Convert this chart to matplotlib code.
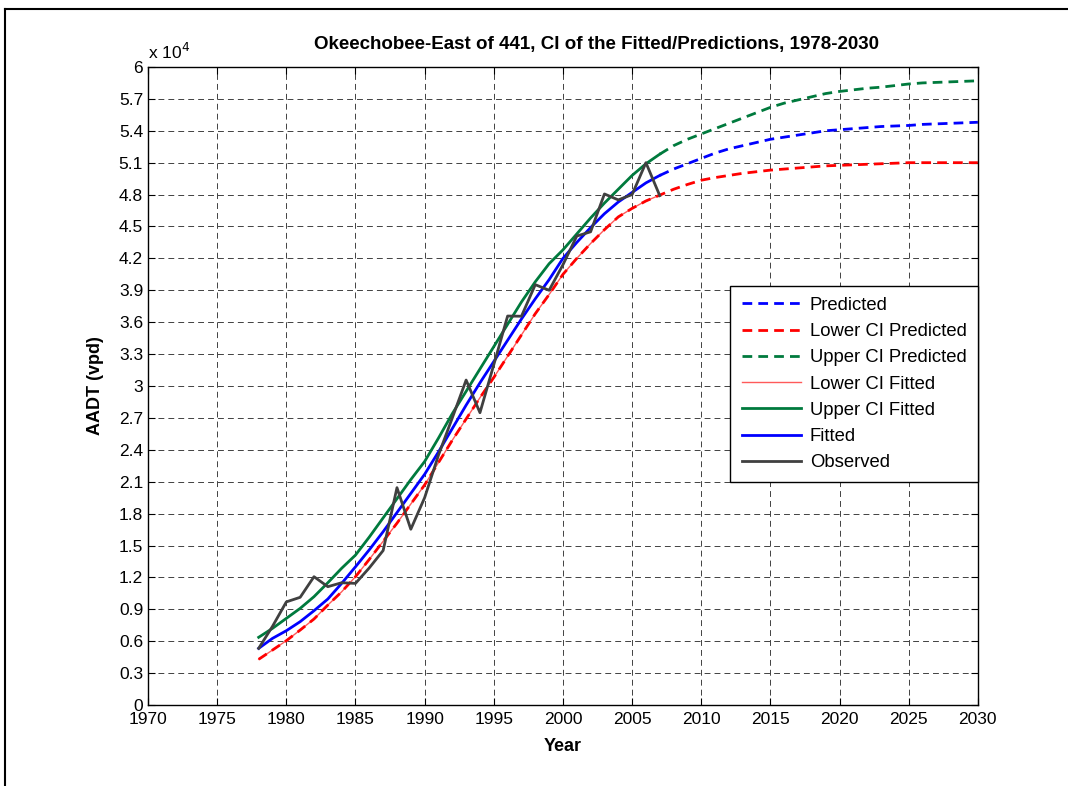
import numpy as np
import matplotlib
matplotlib.use('Agg')
import matplotlib.pyplot as plt
from matplotlib.lines import Line2D

plt.rcParams['font.family'] = ['Liberation Sans', 'DejaVu Sans']

# Data (vehicles per day)
fit_years = list(range(1978, 2008))
pred_years = list(range(2007, 2031))

observed = [5330, 7400, 9700, 10130, 12070, 11130, 11500, 11440, 12900, 14530,
            20440, 16530, 19500, 23500, 27000, 30560, 27490, 32000, 36580, 36560,
            39530, 39000, 41400, 44100, 44500, 48060, 47500, 48000, 51000, 47900]

fitted = [5330, 6270, 6990, 7840, 8870, 9970, 11440, 13000, 14600, 16300,
          18100, 19900, 21700, 23800, 26000, 28200, 30300, 32300, 34300, 36300,
          38200, 40000, 42000, 43500, 44900, 46200, 47300, 48200, 49100, 49800]

upper_fit = [6370, 7210, 8150, 9090, 10190, 11500, 12860, 14100, 15800, 17600,
             19400, 21200, 22900, 25100, 27400, 29500, 31600, 33700, 35800, 37900,
             39800, 41500, 42800, 44300, 45800, 47200, 48500, 49800, 50900, 51800]

lower_fit = [4300, 5170, 6050, 7050, 8090, 9400, 10650, 12070, 13700, 15400,
             17100, 18900, 20700, 22800, 24900, 26900, 28900, 30800, 32800, 34800,
             36800, 38600, 40500, 42000, 43400, 44700, 45900, 46700, 47400, 47950]

predicted = [49800, 50400, 50900, 51400, 51900, 52300, 52600, 52900, 53200, 53400,
             53600, 53800, 54000, 54100, 54200, 54300, 54400, 54450, 54500, 54600,
             54650, 54700, 54750, 54800]

upper_pred = [51800, 52600, 53200, 53700, 54200, 54700, 55200, 55700, 56200, 56600,
              56900, 57200, 57500, 57700, 57850, 58000, 58100, 58250, 58400, 58500,
              58550, 58600, 58650, 58700]

lower_pred = [47950, 48500, 48950, 49350, 49600, 49800, 50000, 50150, 50300, 50400,
              50500, 50600, 50700, 50750, 50800, 50850, 50900, 50950, 51000, 51000,
              51000, 51000, 51000, 51000]

green = '#007A3D'

fig = plt.figure(figsize=(10.68, 7.86), dpi=100)
ax = fig.add_axes([0.1386, 0.103, 0.777, 0.8118])

dash = (0, (3.5, 2.2))
ax.plot(pred_years, predicted, color='blue', lw=2, linestyle=dash, label='Predicted')
ax.plot(fit_years + pred_years[1:], lower_fit + lower_pred[1:], color='red', lw=2,
        linestyle=dash, label='Lower CI Predicted')
ax.plot(pred_years, upper_pred, color=green, lw=2, linestyle=dash, label='Upper CI Predicted')
ax.plot(fit_years, lower_fit, color='#FF5A5A', lw=1.0, label='Lower CI Fitted', zorder=1.9)
ax.plot(fit_years, upper_fit, color=green, lw=2, label='Upper CI Fitted')
ax.plot(fit_years, fitted, color='blue', lw=2, label='Fitted')
ax.plot(fit_years, observed, color='#404040', lw=2, label='Observed')

ax.set_xlim(1970, 2030)
ax.set_ylim(0, 60000)
ax.set_xticks(range(1970, 2031, 5))
yt = np.arange(0, 60001, 3000)
ax.set_yticks(yt)
ax.set_yticklabels(['%g' % (v / 10000) for v in yt])
ax.tick_params(direction='in', top=True, right=True, labelsize=12.5, length=5, width=0.8)
ax.tick_params(axis='x', pad=5)
for s in ax.spines.values():
    s.set_linewidth(1.0)
ax.grid(True, color='#333333', linestyle=(0, (6.5, 4.5)), linewidth=0.65)

ax.text(0.0, 1.008, 'x 10$^4$', transform=ax.transAxes, fontsize=12.5, ha='left', va='bottom')
ax.set_title('Okeechobee-East of 441, CI of the Fitted/Predictions, 1978-2030',
             fontsize=13.5, fontweight='bold', pad=13, x=0.54)
ax.set_xlabel('Year', fontsize=13, fontweight='bold', labelpad=8)
ax.set_ylabel('AADT (vpd)', fontsize=13, fontweight='bold', labelpad=11)

leg = ax.legend(loc='upper right', bbox_to_anchor=(1.0, 0.657), fontsize=13.3,
                fancybox=False, framealpha=1, edgecolor='black', borderpad=0.6,
                labelspacing=0.5, handlelength=3.2, handletextpad=0.5,
                borderaxespad=0)
leg.get_frame().set_linewidth(1.0)

# outer frame of the page
fig.add_artist(Line2D([0.005, 0.005], [0.0, 0.989], color='black', lw=1.5))
fig.add_artist(Line2D([0.005, 1.0], [0.989, 0.989], color='black', lw=1.5))

fig.savefig('out.png', dpi=100)
